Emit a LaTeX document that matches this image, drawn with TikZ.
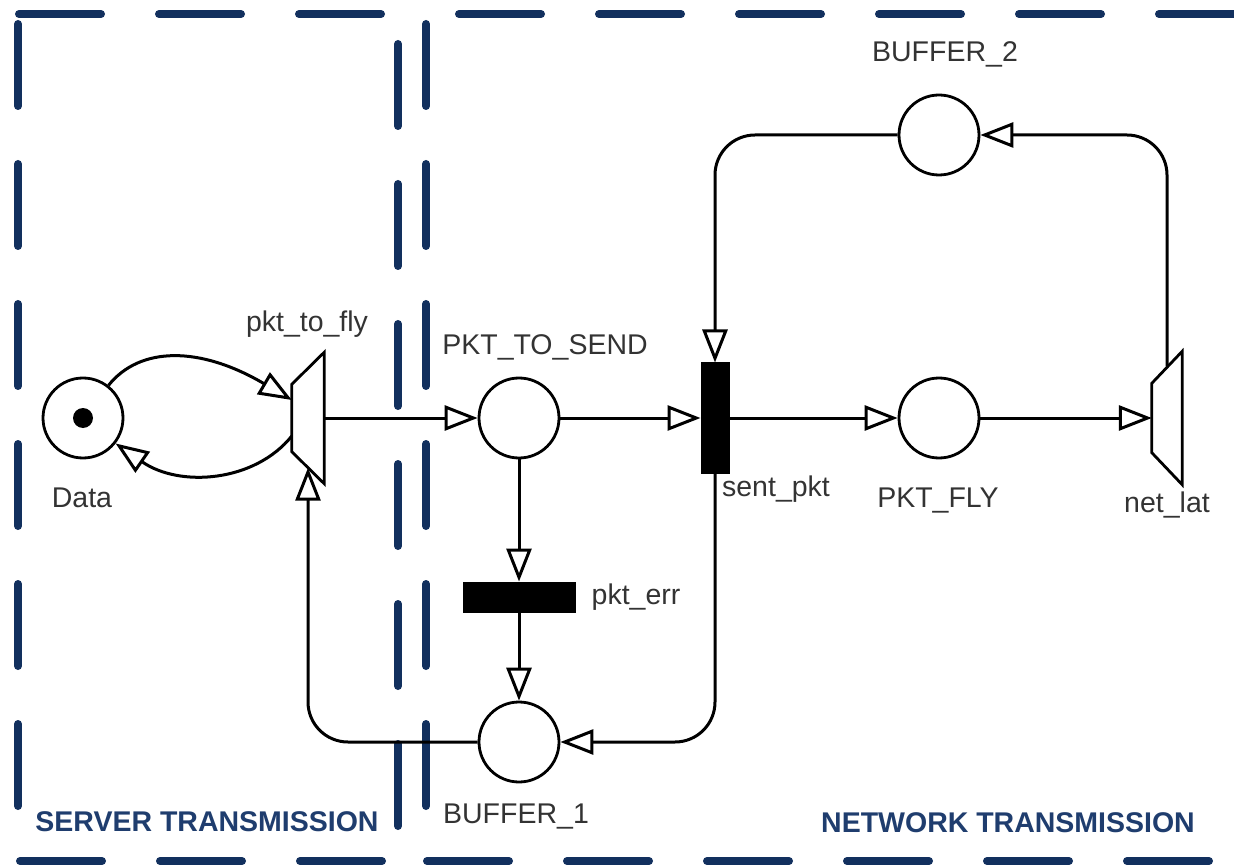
\documentclass[tikz,border=0pt]{standalone}
\usepackage{fontspec}
\setmainfont{Liberation Sans}
\usetikzlibrary{arrows.meta,calc}
\definecolor{navy}{HTML}{12305E}
\definecolor{navytext}{HTML}{1F3D6E}
\definecolor{labelgray}{HTML}{333333}
\tikzset{
 pnplace/.style={circle, draw=black, line width=2.8pt, minimum size=80pt, inner sep=0pt, fill=white},
 pnbar/.style={rectangle, fill=black, draw=black, line width=1pt, inner sep=0pt},
 pnhidden/.style={rectangle, draw=none, inner sep=0pt},
 pntrap/.style={draw=black, line width=2.8pt, line join=miter, fill=white},
 flow/.style={draw=black, line width=3pt, -{Triangle[open, length=33pt, width=25pt]}},
 lbl/.style={font=\fontsize{28.5}{31}\selectfont, text=labelgray, inner sep=0pt, anchor=base},
 region/.style={font=\bfseries\fontsize{28.5}{31}\selectfont, text=navytext, inner sep=0pt, anchor=base},
 dashedge/.style={draw=navy, line width=8pt, line cap=round, dash pattern=on 82pt off 58pt},
}
\begin{document}
\begin{tikzpicture}[x=1pt, y=-1pt]
\useasboundingbox (0,0) rectangle (1234,866);
% region boxes
\draw[dashedge] (19,14) -- (398,14);
\draw[dashedge] (18,24) -- (18,861);
\draw[dashedge] (398,44) -- (398,861);
\draw[dashedge] (20,861) -- (398,861);
\draw[dashedge] (459,14) -- (1240,14);
\draw[dashedge] (426,24) -- (426,861);
\draw[dashedge] (427,861) -- (1240,861);
% nodes
\node[pnplace] (data) at (83,418) {};
\node[circle, fill=black, minimum size=20pt, inner sep=0pt] (tok) at (data) {};
\node[pnhidden, minimum width=32pt, minimum height=131pt] (ptf) at (308,418) {};
\draw[pntrap] (ptf.north east) -- (ptf.south east) -- ($(ptf.south west)+(0,-32)$) -- ($(ptf.north west)+(0,32)$) -- cycle;
\node[pnplace] (pts) at (519,418) {};
\node[pnbar, minimum width=112pt, minimum height=30pt] (pe) at (519,597) {};
\node[pnplace] (b1) at (519,742) {};
\node[pnbar, minimum width=28pt, minimum height=110pt] (sp) at (715,418) {};
\node[pnplace] (pf) at (939,418) {};
\node[pnplace] (b2) at (939,135) {};
\node[pnhidden, minimum width=30pt, minimum height=133pt] (nl) at (1167,418) {};
\draw[pntrap] (nl.north east) -- (nl.south east) -- ($(nl.south west)+(0,-32)$) -- ($(nl.north west)+(0,32)$) -- cycle;
% connectors
\draw[flow] (data.52) .. controls (140,346) and (200,346) .. ($(ptf.west)+(0,-18)$);
\draw[flow] ($(ptf.west)+(0,18)$) .. controls (255,482) and (180,488) .. (data.-38);
\draw[flow] (ptf.east) -- (pts);
\draw[flow] (pts) -- (sp);
\draw[flow] (sp) -- (pf);
\draw[flow] (pf) -- (nl.west);
\draw[flow, rounded corners=40pt] ($(nl.north)+(0,15)$) |- (b2);
\draw[flow, rounded corners=40pt] (b2) -| (sp);
\draw[flow, rounded corners=40pt] (sp) |- (b1);
\draw[flow] (pts) -- (pe);
\draw[flow] (pe) -- (b1);
\draw[flow, rounded corners=40pt] (b1) -| ($(ptf.south)+(0,-16)$);
% labels
\node[lbl] (ldata) at (82,507) {Data};
\node[lbl] (lptf) at (307,332) {pkt\_to\_fly};
\node[lbl] (lpts) at (545,355) {PKT\_TO\_SEND};
\node[lbl] (lsp) at (776,496) {sent\_pkt};
\node[lbl] (lpf) at (938,507) {PKT\_FLY};
\node[lbl] (lnl) at (1167,512) {net\_lat};
\node[lbl] (lpe) at (636,604) {pkt\_err};
\node[lbl] (lb1) at (516,823) {BUFFER\_1};
\node[lbl] (lb2) at (945,62) {BUFFER\_2};
\node[region] (lserver) at (207,831) {SERVER TRANSMISSION};
\node[region] (lnet) at (1008,832) {NETWORK TRANSMISSION};
\end{tikzpicture}
\end{document}
